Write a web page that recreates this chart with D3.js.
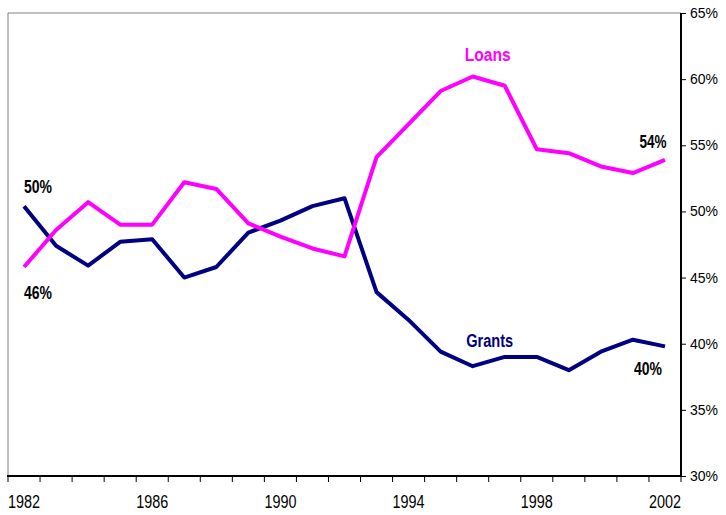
<!DOCTYPE html>
<html><head><meta charset="utf-8">
<script src="https://cdn.jsdelivr.net/npm/d3@7"></script>
<style>body{margin:0;background:#fff}svg{display:block}text{font-family:"Liberation Sans",Arial,sans-serif}</style>
</head><body>
<svg id="c" width="726" height="515"></svg>
<script>
const years = d3.range(1982, 2003);
const loans = [45.8, 48.6, 50.7, 49.0, 49.0, 52.2, 51.7, 49.1, 48.1, 47.2, 46.6, 54.1, 56.6, 59.1, 60.2, 59.5, 54.7, 54.4, 53.4, 52.9, 53.9];
const grants = [50.4, 47.4, 45.9, 47.7, 47.9, 45.0, 45.8, 48.4, 49.3, 50.4, 51.0, 43.9, 41.8, 39.4, 38.3, 39.0, 39.0, 38.0, 39.4, 40.3, 39.8];
const yTicks = [30, 35, 40, 45, 50, 55, 60, 65];
const xLabels = [1982, 1986, 1990, 1994, 1998, 2002];

const svg = d3.select("#c");
const L = 8, R = 681, T = 13, B = 476;
const x = d3.scaleBand().domain(years).range([L, R]).padding(0);
const y = d3.scaleLinear().domain([30, 65]).range([B, T]);
const cx = d => x(d) + x.bandwidth() / 2;

// plot frame (gray left/top)
svg.append("line").attr("x1", L).attr("x2", L).attr("y1", T).attr("y2", B).attr("stroke", "#808080").attr("stroke-width", 1);
svg.append("line").attr("x1", L).attr("x2", R).attr("y1", T).attr("y2", T).attr("stroke", "#808080").attr("stroke-width", 1);

// bottom axis labels
const xAxis = d3.axisBottom(x).tickSize(0).tickPadding(0).tickFormat(d => xLabels.includes(d) ? d : "");
const gx = svg.append("g").attr("transform", `translate(0,${B})`).call(xAxis);
gx.select(".domain").remove();
gx.selectAll(".tick text").attr("font-size", 18).attr("fill", "#000").attr("dy", null).attr("y", 32)
  .each(function(d){ if (xLabels.includes(d)) d3.select(this).attr("textLength", 32).attr("lengthAdjust", "spacingAndGlyphs"); });
// ticks at band boundaries
const bounds = years.map(d => x(d)).concat([R]);
svg.append("g").selectAll("line").data(bounds).join("line")
  .attr("x1", d => d).attr("x2", d => d).attr("y1", B).attr("y2", B + 6)
  .attr("stroke", "#000").attr("stroke-width", 1);
svg.append("line").attr("x1", L - 1).attr("x2", R + 1).attr("y1", B).attr("y2", B).attr("stroke", "#000").attr("stroke-width", 2);

// right axis
const yAxis = d3.axisRight(y).tickValues(yTicks).tickSize(5).tickPadding(4).tickFormat(d => d + "%");
const gy = svg.append("g").attr("transform", `translate(${R},0)`).call(yAxis);
gy.select(".domain").remove();
gy.selectAll("text").attr("font-size", 14).attr("fill", "#000");
gy.selectAll("line").attr("stroke", "#000");
svg.append("line").attr("x1", R).attr("x2", R).attr("y1", T).attr("y2", B + 1).attr("stroke", "#000").attr("stroke-width", 2);

// lines
const line = d3.line().x((d, i) => cx(years[i])).y(d => y(d));
svg.append("path").datum(grants).attr("d", line).attr("fill", "none").attr("stroke", "#000080").attr("stroke-width", 4).attr("stroke-linejoin", "round");
svg.append("path").datum(loans).attr("d", line).attr("fill", "none").attr("stroke", "#FF00FF").attr("stroke-width", 4).attr("stroke-linejoin", "round");

// annotations
const ann = [
  {t: "50%", x: cx(1982) + 14, y: y(grants[0]) - 13, c: "#000", w: 28},
  {t: "46%", x: cx(1982) + 14, y: y(loans[0]) + 32, c: "#000", w: 28},
  {t: "54%", x: cx(2002) - 12, y: y(loans[20]) - 12, c: "#000", w: 27},
  {t: "40%", x: cx(2002) - 17, y: y(grants[20]) + 29, c: "#000", w: 28},
  {t: "Loans", x: cx(1996) + 15, y: y(60.2) - 15.5, c: "#FF00FF", w: 46},
  {t: "Grants", x: cx(1996) + 17, y: y(38.3) - 19, c: "#000080", w: 47}
];
svg.append("g").selectAll("text").data(ann).join("text")
  .attr("x", d => d.x).attr("y", d => d.y).attr("text-anchor", "middle")
  .attr("font-size", 18).attr("font-weight", "bold").attr("fill", d => d.c)
  .attr("textLength", d => d.w).attr("lengthAdjust", "spacingAndGlyphs").text(d => d.t);
</script>
</body></html>
